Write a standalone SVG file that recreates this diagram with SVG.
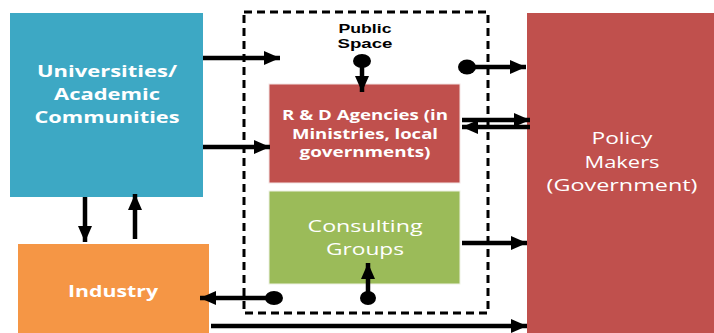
<svg xmlns="http://www.w3.org/2000/svg" width="714" height="333" viewBox="0 0 714 333">
  <style>
    .lbl { font-family: "Open Sans", "Liberation Sans", sans-serif; fill: #ffffff; text-anchor: middle; }
    .b { font-weight: bold; }
    .ps { font-family: "Liberation Sans", Arial, sans-serif; font-weight: bold; font-size: 13px; fill: #000; text-anchor: middle; }
    .conn { stroke: #000; stroke-width: 4.5; fill: none; }
    .dot { fill: #000; }
  </style>
  <defs>
    <marker id="ah" markerUnits="userSpaceOnUse" viewBox="0 0 16 14" refX="16" refY="7" markerWidth="16" markerHeight="14" orient="auto">
      <path d="M0,0 L16,7 L0,14 Z" fill="#000"/>
    </marker>
  </defs>

  <rect width="714" height="333" fill="#ffffff"/>

  <!-- public space boundary -->
  <g id="public-space">
    <rect x="244" y="12" width="244" height="301" fill="none" stroke="#000" stroke-width="3" stroke-dasharray="8,5"/>
    <text class="ps" x="365" y="33" textLength="53" lengthAdjust="spacingAndGlyphs">Public</text>
    <text class="ps" x="365" y="48" textLength="55" lengthAdjust="spacingAndGlyphs">Space</text>
  </g>

  <g id="universities">
    <rect x="10" y="13" width="193" height="184" fill="#3DA8C4"/>
    <text class="lbl b" x="107" y="77" font-size="16" textLength="140" lengthAdjust="spacingAndGlyphs">Universities/</text>
    <text class="lbl b" x="107" y="100" font-size="16" textLength="106" lengthAdjust="spacingAndGlyphs">Academic</text>
    <text class="lbl b" x="107" y="123" font-size="16" textLength="145" lengthAdjust="spacingAndGlyphs">Communities</text>
  </g>

  <g id="industry">
    <rect x="18" y="244" width="191" height="89" fill="#F59645"/>
    <text class="lbl b" x="113" y="297" font-size="16" textLength="90" lengthAdjust="spacingAndGlyphs">Industry</text>
  </g>

  <g id="rd-agencies">
    <rect x="269" y="84" width="191" height="99" fill="#C0504D" stroke="#f4e4e4" stroke-width="1"/>
    <text class="lbl b" x="365" y="120" font-size="13.5" textLength="166" lengthAdjust="spacingAndGlyphs">R &amp; D Agencies (in</text>
    <text class="lbl b" x="365" y="139" font-size="13.5" textLength="146" lengthAdjust="spacingAndGlyphs">Ministries, local</text>
    <text class="lbl b" x="365" y="157" font-size="13.5" textLength="131" lengthAdjust="spacingAndGlyphs">governments)</text>
  </g>

  <g id="consulting">
    <rect x="269" y="191" width="191" height="93" fill="#9BBB59" stroke="#eef2e4" stroke-width="1"/>
    <text class="lbl" x="365" y="232" font-size="16.5" textLength="115" lengthAdjust="spacingAndGlyphs">Consulting</text>
    <text class="lbl" x="365" y="255" font-size="16.5" textLength="78" lengthAdjust="spacingAndGlyphs">Groups</text>
  </g>

  <g id="policy-makers">
    <rect x="527" y="13" width="187" height="320" fill="#C0504D"/>
    <text class="lbl" x="622" y="144" font-size="17" textLength="61" lengthAdjust="spacingAndGlyphs">Policy</text>
    <text class="lbl" x="622" y="168" font-size="17" textLength="75" lengthAdjust="spacingAndGlyphs">Makers</text>
    <text class="lbl" x="622" y="191" font-size="17" textLength="151" lengthAdjust="spacingAndGlyphs">(Government)</text>
  </g>

  <g id="connectors">
    <!-- universities to public space -->
    <line class="conn" x1="203" y1="58" x2="280" y2="58" marker-end="url(#ah)"/>
    <!-- universities to R&D -->
    <line class="conn" x1="203" y1="147" x2="270" y2="147" marker-end="url(#ah)"/>
    <!-- public space to R&D -->
    <ellipse class="dot" cx="362" cy="61" rx="9" ry="7"/>
    <line class="conn" x1="362" y1="61" x2="362" y2="92" marker-end="url(#ah)"/>
    <!-- public space to policy makers -->
    <ellipse class="dot" cx="467" cy="67" rx="9" ry="7.5"/>
    <line class="conn" x1="467" y1="67" x2="526" y2="67" marker-end="url(#ah)"/>
    <!-- R&D and policy makers both ways -->
    <line class="conn" x1="462" y1="120" x2="530" y2="120" marker-end="url(#ah)"/>
    <line class="conn" x1="530" y1="127" x2="462" y2="127" marker-end="url(#ah)"/>
    <!-- universities and industry -->
    <line class="conn" x1="85" y1="197" x2="85" y2="242" marker-end="url(#ah)"/>
    <line class="conn" x1="135" y1="239" x2="135" y2="194" marker-end="url(#ah)"/>
    <!-- consulting to policy makers -->
    <line class="conn" x1="462" y1="243" x2="527" y2="243" marker-end="url(#ah)"/>
    <!-- into consulting from below -->
    <ellipse class="dot" cx="368" cy="298" rx="8" ry="7"/>
    <line class="conn" x1="368" y1="298" x2="368" y2="263" marker-end="url(#ah)"/>
    <!-- to industry -->
    <ellipse class="dot" cx="274" cy="298" rx="9" ry="7"/>
    <line class="conn" x1="274" y1="298" x2="200" y2="298" marker-end="url(#ah)"/>
    <!-- industry to policy makers -->
    <line class="conn" x1="211" y1="326" x2="527" y2="326" marker-end="url(#ah)"/>
  </g>
</svg>
